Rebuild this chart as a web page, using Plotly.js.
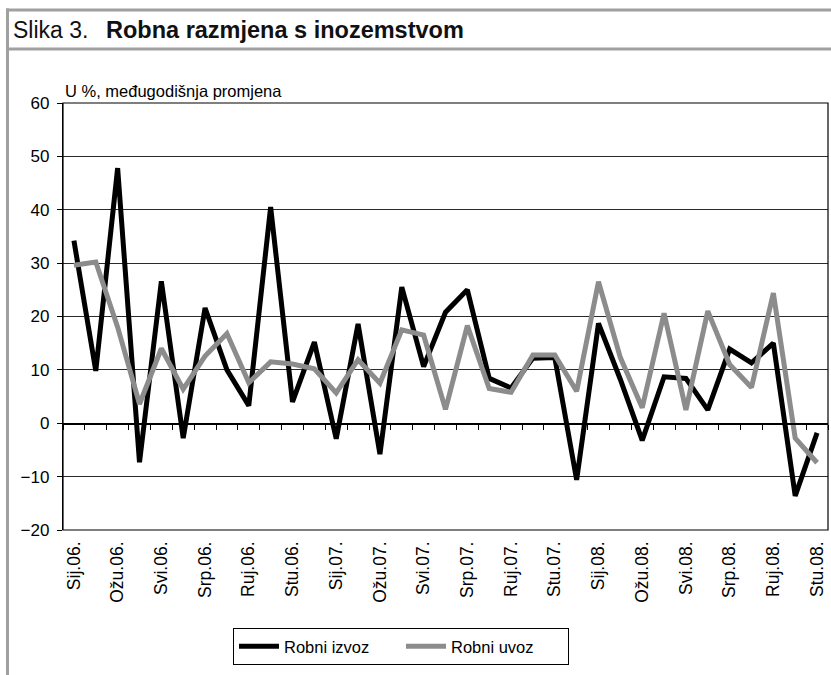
<!DOCTYPE html>
<html>
<head>
<meta charset="utf-8">
<script src="https://cdn.plot.ly/plotly-3.0.1.min.js"></script>
<style>html,body{margin:0;padding:0;background:#fff;}#chart{width:831px;height:675px;}</style>
</head>
<body>
<div id="chart"></div>
<script>
// Categories: months Sij.06. – Stu.08.
const months = [
  "Sij.06.","Velj.06.","Ožu.06.","Tra.06.","Svi.06.","Lip.06.","Srp.06.","Kol.06.","Ruj.06.","Lis.06.","Stu.06.","Pro.06.",
  "Sij.07.","Velj.07.","Ožu.07.","Tra.07.","Svi.07.","Lip.07.","Srp.07.","Kol.07.","Ruj.07.","Lis.07.","Stu.07.","Pro.07.",
  "Sij.08.","Velj.08.","Ožu.08.","Tra.08.","Svi.08.","Lip.08.","Srp.08.","Kol.08.","Ruj.08.","Lis.08.","Stu.08."
];
// Robni izvoz (exports), % y/y
const izvoz = [34.2, 9.8, 47.8, -7.3, 26.6, -2.8, 21.6, 10.0, 3.3, 40.5, 4.0, 15.2,
               -2.9, 18.6, -5.8, 25.5, 10.6, 20.8, 25.0, 8.4, 6.6, 12.2, 12.3, -10.6,
               18.7, 8.2, -3.2, 8.7, 8.4, 2.5, 13.9, 11.3, 15.0, -13.6, -1.8];
// Robni uvoz (imports), % y/y
const uvoz = [29.6, 30.2, 18.0, 3.6, 14.0, 6.4, 12.6, 16.8, 7.6, 11.5, 11.1, 10.2,
              5.7, 11.9, 7.5, 17.5, 16.5, 2.6, 18.3, 6.5, 5.8, 12.8, 12.8, 6.0,
              26.5, 12.3, 2.9, 20.6, 2.5, 21.0, 11.0, 6.7, 24.4, -2.8, -7.4];
// Shown tick labels (every second month)
const tickLabels = ["Sij.06.","Ožu.06.","Svi.06.","Srp.06.","Ruj.06.","Stu.06.",
                    "Sij.07.","Ožu.07.","Svi.07.","Srp.07.","Ruj.07.","Stu.07.",
                    "Sij.08.","Ožu.08.","Svi.08.","Srp.08.","Ruj.08.","Stu.08."];
const seriesNames = ["Robni izvoz", "Robni uvoz"];
const yTitle = "U %, međugodišnja promjena";
const titleLead = "Slika 3.";
const titleMain = "Robna razmjena s inozemstvom";

const FONT = "Liberation Sans, Arial, sans-serif";
const W = 831, H = 675, ML = 63, MR = 3, MT = 103, MB = 145;
const PW = W - ML - MR, PH = H - MT - MB;
const px = x => (x - ML) / PW;
const py = y => (H - MB - y) / PH;

const traces = [
  {x: months, y: izvoz, name: seriesNames[0], type: "scatter", mode: "lines",
   line: {color: "#000000", width: 5}, xaxis: "x", yaxis: "y", hoverinfo: "skip"},
  {x: months, y: uvoz, name: seriesNames[1], type: "scatter", mode: "lines",
   line: {color: "#8c8c8c", width: 5}, xaxis: "x2", yaxis: "y", hoverinfo: "skip"}
];

const gray = "#a0a0a0";
const layout = {
  width: W, height: H,
  margin: {l: ML, r: MR, t: MT, b: MB, pad: 0},
  paper_bgcolor: "#ffffff", plot_bgcolor: "#ffffff",
  font: {family: FONT, color: "#000", size: 16},
  showlegend: true,
  legend: {orientation: "h", x: px(401), xanchor: "center", y: py(628), yanchor: "top",
           bordercolor: "#000", borderwidth: 1, font: {family: FONT, size: 16.5, color: "#000"},
           itemwidth: 40, entrywidth: 112, entrywidthmode: "pixels", tracegroupgap: 0},
  xaxis: {type: "category", range: [-0.5, months.length - 0.5], tickmode: "array",
          tickvals: tickLabels, ticktext: tickLabels, tickangle: -90, ticks: "",
          ticklabelstandoff: 7,
          showgrid: false, showline: false, zeroline: false,
          tickfont: {family: FONT, size: 17.5, color: "#000"}, fixedrange: true},
  xaxis2: {type: "category", overlaying: "x", anchor: "free", position: py(423.3),
           range: [-0.5, months.length - 0.5], side: "bottom",
           showticklabels: false, ticks: "outside", tickson: "boundaries", ticklen: 5,
           tickwidth: 1, tickcolor: "#000", showline: true, linecolor: "#000", linewidth: 1.2,
           showgrid: false, zeroline: false, fixedrange: true},
  yaxis: {range: [-20, 60], dtick: 10, tick0: 0, ticks: "outside", ticklen: 5, tickwidth: 1,
          tickcolor: "#000", showline: true, linecolor: "#000", linewidth: 1.2,
          showgrid: true, gridcolor: "#2a2a2a", gridwidth: 1, zeroline: false,
          ticklabelstandoff: 4,
          tickfont: {family: FONT, size: 17, color: "#000"}, fixedrange: true},
  shapes: [
    {type: "rect", xref: "paper", yref: "paper", x0: 0, x1: 1, y0: 0, y1: 1,
     line: {color: "#000", width: 1.2}, layer: "above"},
    {type: "line", xref: "paper", yref: "paper", x0: px(6), x1: px(835), y0: py(10), y1: py(10),
     line: {color: gray, width: 3}},
    {type: "line", xref: "paper", yref: "paper", x0: px(6), x1: px(835), y0: py(49), y1: py(49),
     line: {color: gray, width: 3}},
    {type: "line", xref: "paper", yref: "paper", x0: px(7.5), x1: px(7.5), y0: py(8.5), y1: py(680),
     line: {color: gray, width: 3}}
  ],
  annotations: [
    {xref: "paper", yref: "paper", x: px(11), y: py(30), xanchor: "left", yanchor: "middle",
     text: titleLead, showarrow: false, font: {family: FONT, size: 23, color: "#111"}},
    {xref: "paper", yref: "paper", x: px(104), y: py(30), xanchor: "left", yanchor: "middle",
     text: "<b>" + titleMain + "</b>", showarrow: false, font: {family: FONT, size: 23.5, color: "#111"}},
    {xref: "paper", yref: "paper", x: px(63), y: py(91), xanchor: "left", yanchor: "middle",
     text: yTitle, showarrow: false, font: {family: FONT, size: 16.5, color: "#000"}}
  ]
};

Plotly.newPlot("chart", traces, layout, {displayModeBar: false, staticPlot: true});
</script>
</body>
</html>
